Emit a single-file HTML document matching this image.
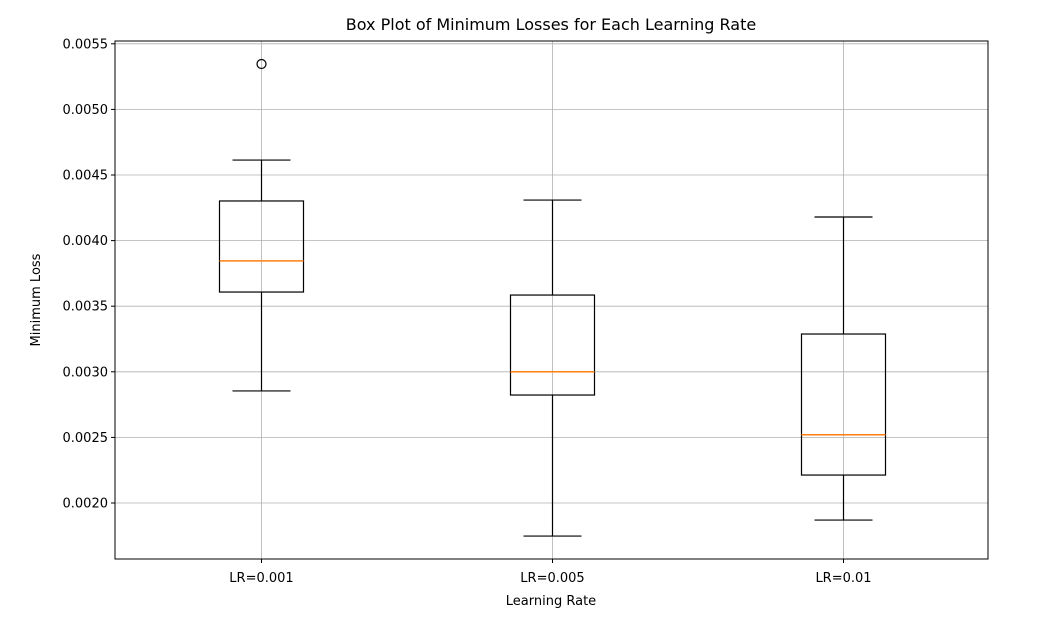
<!DOCTYPE html>
<html><head><meta charset="utf-8"><style>
body{margin:0;background:#fff;}
svg text{font-family:"DejaVu Sans","Liberation Sans",sans-serif;fill:#000;}
</style></head><body>
<svg width="1051" height="619" xmlns="http://www.w3.org/2000/svg">
<g id="grid"></g><g id="boxes"></g><g id="axes"></g>
<text x="551" y="30" font-size="16" text-anchor="middle">Box Plot of Minimum Losses for Each Learning Rate</text>
<text x="551" y="605" font-size="13" text-anchor="middle">Learning Rate</text>
<text transform="translate(40,300) rotate(-90)" font-size="13" text-anchor="middle">Minimum Loss</text>
</svg>
<script>
const categories=["LR=0.001","LR=0.005","LR=0.01"];
const q1=[0.003608,0.002823,0.002213];
const medians=[0.003845,0.0030,0.00252];
const q3=[0.004302,0.003585,0.003288];
const whiskLo=[0.002854,0.001748,0.00187];
const whiskHi=[0.004614,0.004309,0.00418];
const outliers=[[0.005346],[],[]];
const yTicks=[0.0020,0.0025,0.0030,0.0035,0.0040,0.0045,0.0050,0.0055];
const L=115,R=988,T=41,B=559;
const y=v=>503-(v-0.002)/0.0005*65.6;
const x=i=>L+(i+0.5)/categories.length*(R-L)+1;
const NS="http://www.w3.org/2000/svg";
function mk(p,t,a){const e=document.createElementNS(NS,t);for(const k in a)e.setAttribute(k,a[k]);p.appendChild(e);return e;}
const grid=document.getElementById('grid'),boxes=document.getElementById('boxes'),axes=document.getElementById('axes');
yTicks.forEach(t=>{const yy=y(t);
const g=mk(grid,'line',{x1:L,x2:R,y1:yy,y2:yy,stroke:'#b0b0b0','stroke-width':0.8});

mk(axes,'line',{x1:L-4,x2:L,y1:yy,y2:yy,stroke:'#000'});
const tx=mk(axes,'text',{x:L-7,y:yy+4.5,'font-size':13,'text-anchor':'end'});tx.textContent=t.toFixed(4);
});
categories.forEach((c,i)=>{const cx=x(i);
const g=mk(grid,'line',{x1:cx,x2:cx,y1:T,y2:B,stroke:'#b0b0b0','stroke-width':0.8});

mk(axes,'line',{x1:cx,x2:cx,y1:B,y2:B+4,stroke:'#000'});
const tx=mk(axes,'text',{x:cx,y:B+23,'font-size':13,'text-anchor':'middle'});tx.textContent=c;

const grp=mk(boxes,'g',{});
const hw=42,cw=29;
mk(grp,'line',{x1:cx,x2:cx,y1:y(q1[i]),y2:y(whiskLo[i]),stroke:'#000','stroke-width':1.2});
mk(grp,'line',{x1:cx,x2:cx,y1:y(q3[i]),y2:y(whiskHi[i]),stroke:'#000','stroke-width':1.2});
mk(grp,'line',{x1:cx-cw,x2:cx+cw,y1:y(whiskLo[i]),y2:y(whiskLo[i]),stroke:'#000','stroke-width':1.2});
mk(grp,'line',{x1:cx-cw,x2:cx+cw,y1:y(whiskHi[i]),y2:y(whiskHi[i]),stroke:'#000','stroke-width':1.2});
mk(grp,'rect',{x:cx-hw,y:y(q3[i]),width:2*hw,height:y(q1[i])-y(q3[i]),fill:'none',stroke:'#000','stroke-width':1.2});
mk(grp,'line',{x1:cx-hw,x2:cx+hw,y1:y(medians[i]),y2:y(medians[i]),stroke:'#ff7f0e','stroke-width':1.5});
outliers[i].forEach(o=>mk(grp,'circle',{cx:cx,cy:y(o),r:4.5,fill:'none',stroke:'#000','stroke-width':1.2}));
});
const fr=mk(axes,'rect',{x:L,y:T,width:R-L,height:B-T,fill:'none',stroke:'#000','stroke-width':1});

</script>
</body></html>
